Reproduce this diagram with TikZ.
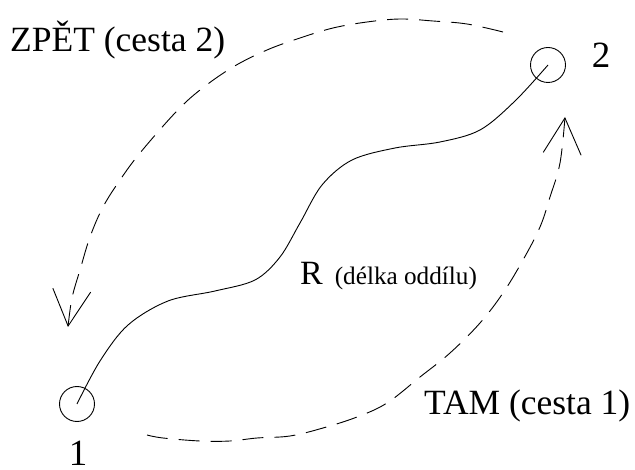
\documentclass[tikz,border=0pt]{standalone}
\usepackage{fontspec}
\setmainfont{Liberation Serif}
\usetikzlibrary{arrows.meta}
\begin{document}
\begin{tikzpicture}[x=1pt,y=-1pt,
  stop/.style={circle, draw, line width=0.9pt, minimum size=35pt, inner sep=0pt},
  trail/.style={line width=0.9pt},
  route/.style={line width=0.9pt, dash pattern=on 21pt off 11pt,
    -{Straight Barb[length=36pt,width=38pt,line width=0.9pt]}},
  bigtext/.style={inner sep=0pt, font=\fontsize{35.5}{40}\selectfont},
  numtext/.style={inner sep=0pt, font=\fontsize{37}{42}\selectfont}]
\useasboundingbox (0,0) rectangle (635,470);

% the two stations
\node[stop] (p1) at (77,404) {};
\node[stop] (p2) at (548,65) {};
\node[numtext, anchor=base] (n1) at (78,465) {1};
\node[numtext, anchor=base] (n2) at (601,68) {2};

% the section itself
\draw[trail] plot[smooth, tension=0.55] coordinates {(p1.center) (100,361)
  (128,325) (168,301) (215,291) (255,280) (280,257) (300,223) (322,185)
  (352,160) (395,148) (440,142) (480,130) (515,101) (p2.center)};
\node[inner sep=0pt, anchor=base west] (rlab) at (300,285)
  {\fontsize{34}{40}\selectfont R\,\fontsize{25.2}{30}\selectfont\ (délka oddílu)};

% way there
\coordinate (thereStart) at (147,435);
\coordinate (thereEnd) at (565,117);
\draw[route] plot[smooth, tension=0.6] coordinates {(thereStart) (163,438) (200,441)
  (230,441) (257,438) (290,436) (323,428) (357,417) (387,403) (420,377)
  (450,353) (480,323) (503,293) (523,260) (540,227) (550,197) (560,163) (thereEnd)};
\node[bigtext, anchor=base west] (tam) at (424,415) {TAM (cesta 1)};

% way back
\coordinate (backStart) at (503,32);
\coordinate (backEnd) at (68,327);
\draw[route] plot[smooth, tension=0.6] coordinates {(backStart) (467,24) (433,21)
  (400,19) (367,22) (333,28) (300,38) (267,50) (233,67) (200,90) (175,113)
  (140,153) (120,180) (103,207) (90,237) (80,270) (72,298) (backEnd)};
\node[bigtext, anchor=base west] (zpet) at (10,52) {ZPĚT (cesta 2)};
\end{tikzpicture}
\end{document}
